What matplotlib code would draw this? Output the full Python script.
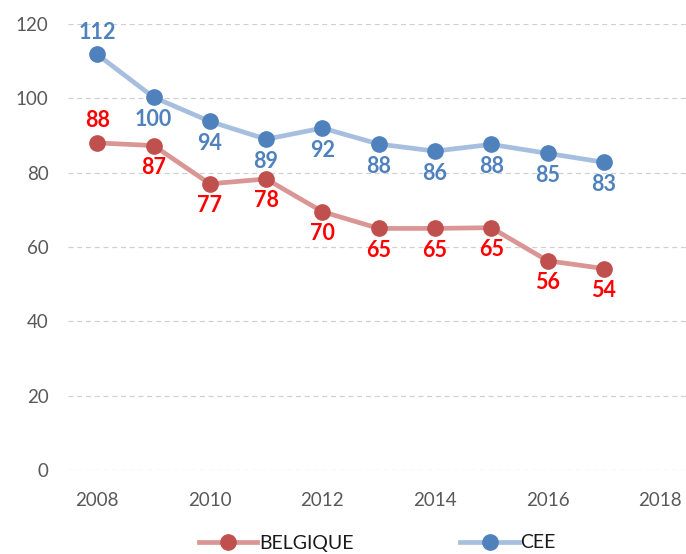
import matplotlib
matplotlib.use("Agg")
import matplotlib.pyplot as plt

years = [2008, 2009, 2010, 2011, 2012, 2013, 2014, 2015, 2016, 2017]
belgique = [88.0, 87.3, 77.0, 78.3, 69.5, 65.0, 65.0, 65.2, 56.3, 54.2]
cee = [111.8, 100.3, 93.8, 89.0, 92.0, 87.7, 85.8, 87.6, 85.2, 82.8]
belgique_pos = ["above"] + ["below"] * 9
cee_pos = ["above"] + ["below"] * 9

plt.rcParams['font.family'] = ['Lato', 'DejaVu Sans']

fig = plt.figure(figsize=(6.86, 5.54), dpi=100)
ax = fig.add_axes([68 / 686, 84 / 554, 618 / 686, (470 - 24) / 554])

ax.plot(years, belgique, color='#D99694', lw=3.4, marker='o', ms=11,
        mfc='#C0504D', mec='#C0504D', label='BELGIQUE', zorder=3)
ax.plot(years, cee, color='#A7BFDE', lw=3.4, marker='o', ms=11,
        mfc='#4F81BD', mec='#4F81BD', label='CEE', zorder=3)

for x, v, p in zip(years, belgique, belgique_pos):
    dy = 22 if p == "above" else -22
    ax.annotate(f"{round(v)}", (x, v), xytext=(0, dy), textcoords='offset pixels',
                ha='center', va='center', color='#FF0000', fontsize=15.5, fontweight='bold')
for x, v, p in zip(years, cee, cee_pos):
    dy = 22 if p == "above" else -22
    ax.annotate(f"{round(v)}", (x, v), xytext=(0, dy), textcoords='offset pixels',
                ha='center', va='center', color='#4F81BD', fontsize=15.5, fontweight='bold')

ax.set_xlim(2007.48, 2018.46)
ax.set_ylim(0, 120)
ax.set_xticks([2008, 2010, 2012, 2014, 2016, 2018])
ax.set_yticks(range(0, 121, 20))
ax.grid(axis='y', color='#D0D0D0', linestyle=(0, (4, 3)), lw=0.9)
ax.set_axisbelow(True)
for s in ax.spines.values():
    s.set_visible(False)
ax.tick_params(length=0, labelsize=13.5, labelcolor='#595959')
ax.tick_params(axis='x', pad=16)
ax.tick_params(axis='y', pad=14)

fig.legend(loc='center', bbox_to_anchor=(0.55, 11 / 554), ncol=2,
           frameon=False, fontsize=14, handlelength=3, columnspacing=5.5,
           handletextpad=0.1, labelcolor='#1a1a1a')

fig.savefig('out.png', dpi=100)
